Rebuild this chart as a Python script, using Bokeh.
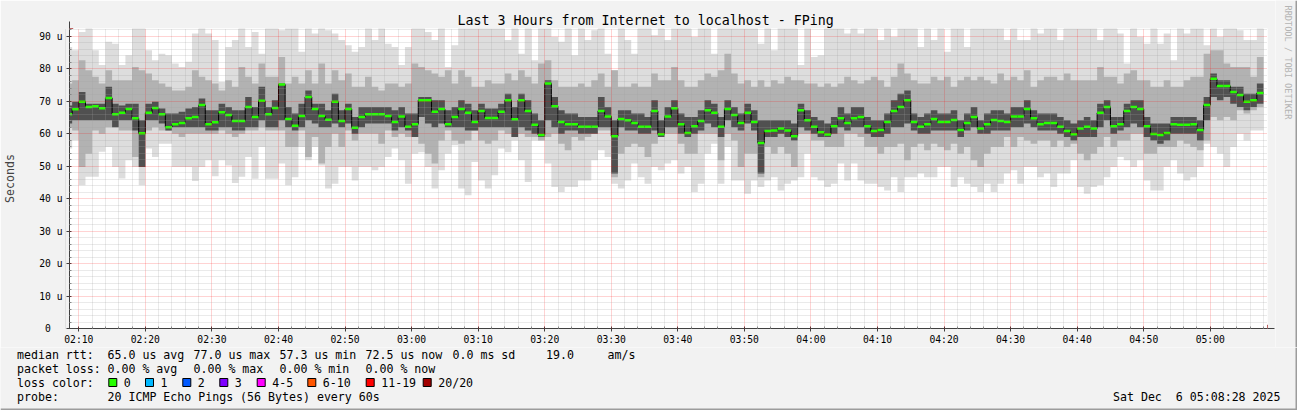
import numpy as np
from bokeh.plotting import figure
from bokeh.layouts import column, row
from bokeh.models import Range1d, FixedTicker, Arrow, NormalHead
from bokeh.core.properties import value
from bokeh.embed import file_html
from bokeh.resources import INLINE

# ---------------- data (values in microseconds, one step per minute, first step starts 02:08) -------------
start_minute = 8  # minutes after 02:00 of the first step

median = [66.0, 67.5, 69.8, 68.2, 68.4, 67.8, 71.0, 66.0, 66.4, 67.6, 64.7, 60.1, 66.4, 67.9, 66.0, 62.0, 62.9, 63.3, 64.7, 65.1, 68.8, 62.9, 63.5, 66.6, 65.7, 63.9, 63.9, 68.2, 65.1, 70.1,
          66.0,
          67.9, 75.1, 64.5, 62.4, 65.4, 71.3, 67.6, 65.4, 64.3, 69.8, 63.9, 67.6, 61.8, 65.1, 66.0, 66.0, 66.0, 65.4, 63.6, 65.3, 62.1, 62.9, 70.3, 70.3, 66.7, 67.6, 62.9, 65.1, 67.6, 66.4,
          63.6, 67.0, 64.8, 64.8, 66.7, 70.3, 64.4, 70.3, 67.0, 62.7, 59.6, 75.4, 68.4, 63.6, 62.9, 62.9, 62.1, 62.1, 62.1, 67.0, 65.3, 59.2, 64.5, 64.1, 63.3, 62.1, 62.1, 67.0, 59.8, 65.3, 67.8,
          62.9, 60.2, 62.3, 63.9, 67.2, 66.4, 62.1, 67.6, 65.7, 63.3, 66.4, 63.6, 57.1, 60.8, 61.0, 61.6, 61.0, 59.2, 67.2, 64.1, 62.1, 60.4, 59.7, 62.3, 64.7, 63.3, 64.7, 65.1, 62.3, 60.8, 61.1,
          63.6, 67.0, 68.2, 70.3, 63.6, 62.1, 62.9, 64.5, 63.6, 63.6, 64.2, 61.1, 63.3, 65.1, 61.6, 62.9, 64.2, 63.9, 63.6, 65.3, 65.3, 67.6, 64.7, 62.9, 63.3, 63.3, 62.1, 60.8, 59.8, 61.6,
          62.1, 61.6, 66.4, 68.2, 62.3, 62.9, 67.0, 68.2, 67.6, 62.3, 59.9, 59.6, 60.2, 62.9, 62.7, 62.7, 62.9, 61.1, 68.8, 76.9, 74.7, 74.7, 72.8, 71.9, 69.8, 70.3, 72.5]

smoke_min = [55.4, 58.0, 44.1, 46.7, 46.7, 54.4, 55.9, 49.7, 46.2, 51.8, 49.7, 44.1, 55.4, 52.8, 56.9, 56.9, 49.7, 49.7, 49.7, 45.4, 49.7, 51.8, 46.9, 51.8, 50.2, 44.8, 46.7, 52.8, 46.1, 55.9,
             46.1,
             46.1, 50.8, 44.1, 46.6, 55.9, 51.8, 55.9, 50.2, 43.1, 44.6, 49.7, 49.7, 45.6, 49.7, 49.7, 48.7, 49.7, 52.8, 55.4, 51.8, 44.6, 53.8, 54.3, 49.7, 43.1, 48.7, 53.8, 56.4, 43.1, 41.0,
             51.3, 45.6, 43.1, 47.2, 55.4, 54.3, 57.9, 51.8, 45.1, 57.9, 57.9, 50.8, 43.6, 42.0, 43.6, 43.6, 45.6, 45.6, 51.8, 54.9, 52.8, 44.6, 43.1, 45.6, 50.8, 46.6, 44.6, 49.7, 48.7, 50.8, 51.8,
             47.7, 49.7, 42.0, 44.6, 53.8, 56.9, 44.6, 55.9, 45.6, 45.6, 41.5, 45.6, 43.6, 45.6, 46.6, 42.5, 44.6, 45.6, 46.6, 53.8, 46.6, 45.6, 43.6, 44.6, 50.8, 45.6, 50.8, 45.6, 44.6, 44.6, 43.6,
             42.5, 46.6, 42.0, 46.6, 46.6, 47.7, 46.6, 46.6, 49.7, 49.7, 43.6, 46.6, 44.6, 43.6, 42.0, 44.6, 42.0, 44.6, 47.7, 48.7, 44.6, 49.7, 49.7, 46.6, 47.7, 43.6, 47.7, 47.7, 51.8, 43.6,
             41.5, 43.6, 44.1, 46.6, 49.7, 52.8, 51.8, 49.7, 51.8, 45.6, 42.5, 42.5, 49.7, 51.8, 47.7, 45.6, 46.6, 49.7, 56.9, 55.9, 53.8, 49.7, 55.9, 60.0, 57.9, 61.0, 61.0]

smoke_max = [86.7, 85.7, 91.3, 95, 85.7, 81.1, 88.3, 87.7, 81.1, 84.1, 95, 95, 85.7, 82.6, 84.6, 84.1, 81.6, 80.5, 82.1, 90.8, 95, 90.8, 88.8, 75.9, 86.7, 88.8, 95, 86.7, 91.3, 84.6,
             95,
             95, 91.8, 95, 95, 85.2, 95, 90.8, 95, 91.8, 90.8, 88.8, 87.2, 85.2, 86.7, 95, 88.8, 95, 87.7, 86.7, 81.1, 86.7, 95, 95, 91.3, 88.8, 95, 80.5, 87.2, 95, 95,
             95, 95, 95, 95, 95, 88.8, 95, 84.6, 95, 82.6, 95, 95, 89.8, 88.3, 95, 84.1, 95, 88.8, 91.8, 95, 84.6, 79.5, 95, 88.8, 84.6, 95, 95, 90.3, 95, 88.8, 95,
             95, 95, 89.8, 95, 95, 84.6, 95, 95, 95, 95, 95, 95, 87.7, 95, 85.7, 95, 95, 95, 81.1, 95, 83.6, 84.1, 95, 95, 95, 90.8, 95, 90.8, 95, 95, 88.8,
             95, 89.8, 95, 95, 95, 86.7, 95, 88.8, 95, 85.2, 95, 95, 86.7, 95, 95, 95, 95, 95, 88.8, 95, 88.8, 88.8, 95, 90.8, 95, 95, 88.8, 95, 95, 95,
             95, 95, 88.8, 95, 95, 90.8, 81.6, 95, 89.8, 87.7, 95, 87.7, 90.8, 82.6, 95, 90.8, 95, 95, 87.2, 95, 89.8, 95, 95, 91.8, 88.8, 88.8, 95]

smoke_mid_lo = [62.0, 61.0, 49.7, 53.8, 61.0, 60.0, 62.0, 62.0, 61.0, 61.0, 52.8, 49.7, 61.0, 62.0, 61.0, 61.0, 60.0, 59.0, 60.0, 60.0, 60.0, 60.0, 60.0, 61.0, 60.0, 59.0, 60.0, 61.0, 61.0, 62.0,
                61.0,
                61.0, 61.0, 55.9, 55.9, 61.0, 52.8, 59.0, 50.8, 55.9, 60.0, 55.9, 61.0, 57.9, 60.0, 60.0, 60.0, 56.9, 61.0, 59.0, 60.0, 59.0, 59.0, 56.9, 53.8, 50.8, 57.9, 61.0, 57.9, 56.9, 57.9,
                61.0, 57.9, 56.9, 57.9, 61.0, 60.0, 59.0, 60.0, 59.0, 59.0, 57.9, 59.0, 60.0, 56.9, 54.9, 59.0, 57.9, 59.0, 60.0, 61.0, 61.0, 46.6, 53.8, 55.9, 56.9, 55.9, 52.8, 56.9, 59.0, 60.0, 60.0,
                56.9, 53.8, 53.8, 60.0, 60.0, 60.0, 51.8, 60.0, 57.9, 49.7, 53.8, 53.8, 46.6, 55.9, 53.8, 55.9, 53.8, 49.7, 60.0, 60.0, 57.9, 57.9, 55.9, 55.9, 55.9, 60.0, 60.0, 59.0, 55.9, 55.9, 53.8,
                55.9, 55.9, 56.9, 51.8, 55.9, 56.9, 54.9, 56.9, 55.9, 54.9, 56.9, 53.8, 55.9, 51.8, 49.7, 53.8, 55.9, 55.9, 59.0, 55.9, 59.0, 57.9, 56.9, 57.9, 57.9, 55.9, 57.9, 55.9, 56.9, 53.8,
                51.8, 53.8, 55.9, 59.0, 55.9, 57.9, 57.9, 60.0, 60.0, 53.8, 53.8, 55.9, 55.9, 55.9, 57.9, 56.9, 55.9, 54.9, 57.9, 65.1, 64.1, 65.1, 64.1, 67.2, 66.2, 67.2, 68.2]

smoke_mid_hi = [75.4, 76.4, 82.6, 79.5, 77.5, 75.4, 79.5, 76.4, 76.4, 76.4, 80.5, 79.5, 78.5, 76.4, 75.4, 74.4, 73.3, 73.3, 74.4, 79.5, 77.5, 76.4, 75.4, 73.3, 76.4, 74.4, 80.5, 77.5, 75.4, 81.6,
                77.5,
                77.5, 83.6, 75.4, 77.5, 75.4, 79.5, 75.4, 81.6, 75.4, 79.5, 76.4, 78.5, 74.4, 74.4, 77.5, 74.4, 73.3, 75.4, 75.4, 74.4, 75.4, 81.6, 80.5, 79.5, 78.5, 77.5, 79.5, 75.4, 79.5, 77.5,
                74.4, 74.4, 76.4, 75.4, 75.4, 78.5, 76.4, 79.5, 77.5, 75.4, 81.6, 82.6, 76.4, 74.4, 74.4, 74.4, 75.4, 74.4, 76.4, 78.5, 74.4, 79.5, 74.4, 74.4, 75.4, 74.4, 74.4, 78.5, 76.4, 76.4, 80.5,
                76.4, 74.4, 74.4, 76.4, 78.5, 77.5, 79.5, 84.6, 78.5, 75.4, 76.4, 74.4, 76.4, 74.4, 76.4, 75.4, 77.5, 76.4, 76.4, 75.4, 75.4, 74.4, 75.4, 74.4, 75.4, 77.5, 76.4, 75.4, 76.4, 77.5, 76.4,
                74.4, 77.5, 81.6, 78.5, 76.4, 75.4, 75.4, 77.5, 76.4, 77.5, 74.4, 76.4, 77.5, 76.4, 77.5, 76.4, 75.4, 78.5, 76.4, 77.5, 76.4, 79.5, 74.4, 76.4, 77.5, 77.5, 76.4, 78.5, 76.4, 76.4,
                76.4, 76.4, 80.5, 77.5, 77.5, 75.4, 78.5, 79.5, 76.4, 76.4, 74.4, 74.4, 76.4, 74.4, 74.4, 76.4, 77.5, 77.5, 84.6, 85.7, 85.7, 81.6, 80.5, 80.5, 80.5, 77.5, 83.6]

smoke_in_lo = [63.1, 64.1, 64.1, 64.1, 64.1, 64.1, 64.1, 62.0, 64.1, 64.1, 61.0, 49.7, 64.1, 64.1, 63.1, 61.0, 62.0, 62.0, 62.0, 62.0, 62.0, 61.0, 61.0, 62.0, 62.0, 61.0, 61.0, 62.0, 62.0, 64.1,
               62.0,
               62.0, 64.1, 62.0, 61.0, 62.0, 64.1, 63.1, 62.0, 62.0, 63.1, 62.0, 63.1, 60.0, 62.0, 63.1, 63.1, 63.1, 63.1, 61.0, 62.0, 61.0, 59.0, 65.1, 63.1, 62.0, 63.1, 62.0, 62.0, 62.0, 61.0,
               61.0, 62.0, 62.0, 62.0, 62.0, 62.0, 59.0, 62.0, 61.0, 60.0, 59.0, 64.1, 62.0, 60.0, 61.0, 61.0, 60.0, 60.0, 60.0, 62.0, 62.0, 47.7, 62.0, 61.0, 61.0, 60.0, 60.0, 61.0, 59.0, 62.0, 62.0,
               60.0, 59.0, 60.0, 61.0, 63.1, 62.0, 59.0, 64.1, 62.0, 61.0, 63.1, 61.0, 47.7, 59.0, 59.0, 60.0, 59.0, 57.9, 62.0, 61.0, 60.0, 59.0, 59.0, 60.0, 62.0, 61.0, 62.0, 62.0, 60.0, 59.0, 59.0,
               60.0, 62.0, 62.0, 63.1, 61.0, 60.0, 60.0, 61.0, 61.0, 61.0, 61.0, 59.0, 61.0, 62.0, 60.0, 60.0, 61.0, 61.0, 61.0, 62.0, 62.0, 63.1, 62.0, 61.0, 61.0, 61.0, 60.0, 59.0, 57.9, 59.0,
               59.0, 59.0, 62.0, 64.1, 60.0, 61.0, 62.0, 63.1, 62.0, 59.0, 57.9, 56.9, 57.9, 60.0, 60.0, 60.0, 60.0, 57.9, 64.1, 71.3, 70.3, 71.3, 69.2, 68.2, 67.2, 68.2, 69.2]

smoke_in_hi = [68.7, 69.8, 72.8, 69.2, 69.2, 69.2, 74.4, 69.2, 68.7, 69.2, 69.2, 64.1, 69.2, 69.8, 67.7, 66.2, 66.2, 66.7, 67.7, 68.2, 70.8, 67.2, 67.2, 69.2, 68.2, 67.2, 67.2, 71.3, 68.2, 74.4,
               68.2,
               70.3, 75.4, 68.2, 66.2, 69.2, 73.3, 69.2, 69.2, 67.2, 72.3, 67.2, 69.2, 65.1, 68.2, 68.2, 68.2, 68.2, 68.2, 67.2, 68.2, 66.2, 66.2, 71.3, 71.3, 70.3, 70.3, 67.2, 68.2, 70.3, 69.2,
               67.2, 69.2, 67.7, 67.7, 69.2, 72.3, 68.2, 72.3, 70.3, 66.2, 64.1, 76.4, 71.3, 67.2, 66.2, 66.2, 65.1, 65.1, 65.1, 71.3, 68.2, 64.1, 67.2, 67.2, 66.2, 66.2, 65.1, 70.3, 64.1, 68.2, 70.3,
               66.2, 65.1, 65.1, 67.2, 70.3, 69.2, 65.1, 70.3, 68.2, 66.2, 69.2, 67.2, 64.1, 64.1, 64.1, 64.1, 64.1, 63.1, 69.2, 67.2, 65.1, 64.1, 63.1, 65.1, 68.2, 66.2, 68.2, 68.2, 65.1, 64.1, 64.1,
               66.2, 70.3, 72.3, 73.3, 66.2, 65.1, 66.2, 67.2, 66.2, 66.2, 67.2, 64.1, 66.2, 68.2, 64.1, 66.2, 67.2, 67.2, 66.2, 68.2, 68.2, 70.3, 67.2, 66.2, 66.2, 66.2, 65.1, 64.1, 63.1, 64.1,
               65.1, 64.1, 69.2, 70.3, 65.1, 65.1, 69.2, 70.3, 70.3, 65.1, 63.1, 63.1, 63.1, 65.1, 65.1, 65.1, 65.1, 64.1, 71.3, 78.5, 76.4, 76.4, 74.4, 74.4, 72.3, 72.3, 75.4]

x_tick_labels = ["02:10", "02:20", "02:30", "02:40", "02:50", "03:00", "03:10", "03:20", "03:30",
                 "03:40", "03:50", "04:00", "04:10", "04:20", "04:30", "04:40", "04:50", "05:00"]
y_tick_values = [0, 10, 20, 30, 40, 50, 60, 70, 80, 90]
y_tick_labels = ["0\u00a0\u00a0", "10 u", "20 u", "30 u", "40 u", "50 u", "60 u", "70 u", "80 u", "90 u"]

title_text = "Last 3 Hours from Internet to localhost - FPing"
y_label = "Seconds"
rtt_items = ["median rtt:", "65.0 us avg", "77.0 us max", "57.3 us min", "72.5 us now", "0.0 ms sd", "19.0", "am/s"]
loss_items = ["packet loss:", "0.00 % avg", "0.00 % max", "0.00 % min", "0.00 % now"]
loss_color_names = ["0", "1", "2", "3", "4-5", "6-10", "11-19", "20/20"]
loss_color_values = ["#26ff00", "#00b8ff", "#0059ff", "#7e00ff", "#ff00ff", "#ff5500", "#ff0000", "#a10000"]
probe_items = ["probe:", "20 ICMP Echo Pings (56 Bytes) every 60s"]
date_text = "Sat Dec  6 05:08:28 2025"
watermark = "RRDTOOL / TOBI OETIKER"

for arr in (smoke_min, smoke_max, smoke_mid_lo, smoke_mid_hi, smoke_in_lo, smoke_in_hi):
    assert len(arr) == len(median), len(arr)

# ---------------- layout ----------------
FONT = "DejaVu Sans Mono"
BG = "#f2f2f2"
EDGE = "#9c9c9c"
W = 1297
MAIN_W = 1275
WM_W = W - MAIN_W
MAIN_H = 347
LEG_H = 410 - MAIN_H
FL, FT, FW, FH = 67, 28, 1200, 300          # frame position in pixels
X0, X1 = 8.6, 188.6                        # minutes after 02:00
Y0, Y1 = 0.0, 92.37
px_per_u = FH / (Y1 - Y0)
px_per_min = FW / (X1 - X0)

p = figure(width=MAIN_W, height=MAIN_H, x_range=Range1d(X0, X1), y_range=Range1d(Y0, Y1),
           output_backend="svg", toolbar_location=None,
           min_border_left=FL, min_border_right=MAIN_W - FL - FW, min_border_top=FT,
           min_border_bottom=MAIN_H - FT - FH,
           background_fill_color="white", border_fill_color=BG, outline_line_color=None)

# title
p.title.text = title_text
p.title.text_font = FONT
p.title.text_font_size = "13.3px"
p.title.text_font_style = "normal"
p.title.text_color = "#000000"
p.title.align = "left"
p.title.offset = 388
p.title.standoff = 2

# stepped smoke bands
n = len(median)
t0 = np.arange(n) + start_minute
xs = np.column_stack([t0, t0 + 1]).ravel()
def stepy(a):
    return np.repeat(np.asarray(a, dtype=float), 2)

p.varea(x=xs, y1=stepy(smoke_min), y2=stepy(smoke_max), fill_color="#dddddd")
p.varea(x=xs, y1=stepy(smoke_mid_lo), y2=stepy(smoke_mid_hi), fill_color="#b2b2b2")
p.varea(x=xs, y1=stepy(smoke_in_lo), y2=stepy(smoke_in_hi), fill_color="#505050")

# median: black step line with green segments
p.line(x=xs, y=stepy(median), line_color="#000000", line_width=1)
p.segment(x0=t0, y0=median, x1=t0 + 1, y1=median, line_color="#26ff00", line_width=2.5)

# axes / grid
x_ticks = [int(s[:2]) * 60 + int(s[3:]) - 120 for s in x_tick_labels]
x_minor = [m for m in range(int(X0), int(X1) + 1) if m % 2 == 0 and m % 10 != 0]
y_minor = [v for v in range(0, int(Y1) + 1, 2) if v % 10 != 0]

p.xaxis.ticker = FixedTicker(ticks=x_ticks, minor_ticks=x_minor)
p.xaxis.major_label_overrides = {t: s for t, s in zip(x_ticks, x_tick_labels)}
p.yaxis.ticker = FixedTicker(ticks=y_tick_values, minor_ticks=y_minor)
p.yaxis.major_label_overrides = {t: s for t, s in zip(y_tick_values, y_tick_labels)}

for ax in (p.xaxis, p.yaxis):
    ax.axis_line_color = "#404040"
    ax.major_tick_line_color = "#404040"
    ax.minor_tick_line_color = "#808080"
    ax.major_tick_out = 3
    ax.major_tick_in = 2
    ax.minor_tick_out = 0
    ax.minor_tick_in = 2
    ax.major_label_text_font = FONT
    ax.major_label_text_font_size = "9.7px"
    ax.major_label_text_color = "#000000"
p.yaxis.major_label_standoff = 4
p.xaxis.major_label_standoff = 2
p.yaxis.axis_label = y_label
p.yaxis.axis_label_text_font = FONT
p.yaxis.axis_label_text_font_size = "11.6px"
p.yaxis.axis_label_text_font_style = "normal"
p.yaxis.axis_label_standoff = 19

for g in (p.xgrid, p.ygrid):
    g.level = "overlay"
    g.grid_line_color = "#ff0000"
    g.grid_line_alpha = 0.35
    g.grid_line_dash = "1 1"
    g.minor_grid_line_color = "#a0a0a0"
    g.minor_grid_line_alpha = 0.45
    g.minor_grid_line_dash = "1 1"

# axis arrows
head_col = "#9b1010"
p.add_layout(Arrow(x_start=X0, y_start=Y1, x_end=X0, y_end=Y1 + 7 / px_per_u,
                   line_color="#404040", line_width=1,
                   end=NormalHead(size=7, fill_color=head_col, line_color=head_col)))
p.add_layout(Arrow(x_start=X1, y_start=Y0, x_end=X1 + 7 / px_per_min, y_end=Y0,
                   line_color="#404040", line_width=1,
                   end=NormalHead(size=7, fill_color=head_col, line_color=head_col)))

# ---------------- watermark strip on the right (pixel coordinates, y downward) ----------------
wmf = figure(width=WM_W, height=MAIN_H, x_range=Range1d(0, WM_W), y_range=Range1d(MAIN_H, 0),
             output_backend="svg", toolbar_location=None, min_border=0,
             x_axis_location=None, y_axis_location=None,
             background_fill_color=BG, border_fill_color=BG, outline_line_color=None)
wmf.grid.visible = False
wmf.text(x=[1287 - MAIN_W], y=[5], text=[watermark], angle=-np.pi / 2,
         text_align="left", text_baseline="middle", text_font=value(FONT),
         text_font_size=value("8.6px"), text_color="#b4b4b4")
wmf.quad(left=[WM_W - 2], right=[WM_W], top=[0], bottom=[MAIN_H], fill_color=EDGE, line_color=None)

# ---------------- legend strip (pixel coordinates, y downward) ----------------
q = figure(width=W, height=LEG_H, x_range=Range1d(0, W), y_range=Range1d(LEG_H, 0),
           output_backend="svg", toolbar_location=None, min_border=0,
           x_axis_location=None, y_axis_location=None,
           background_fill_color=BG, border_fill_color=BG, outline_line_color=None)
q.grid.visible = False

def strip_y(page_y):
    return page_y - MAIN_H

tx, ty, tt, ta = [], [], [], []
rtt_x = [16.5, 107, 193, 279, 365, 452, 545.5, 607]
for s, x in zip(rtt_items, rtt_x):
    tx.append(x); ty.append(strip_y(354)); tt.append(s); ta.append("left")
loss_x = [16.5, 107, 193, 279, 365]
for s, x in zip(loss_items, loss_x):
    tx.append(x); ty.append(strip_y(368)); tt.append(s); ta.append("left")
tx.append(16.5); ty.append(strip_y(382)); tt.append("loss color:"); ta.append("left")
sq_x = [108.3, 145, 182.3, 219.3, 256.7, 307.3, 365.7, 422.7]
for name, x in zip(loss_color_names, sq_x):
    tx.append(x + 15); ty.append(strip_y(382)); tt.append(name); ta.append("left")
for s, x in zip(probe_items, [16.5, 107]):
    tx.append(x); ty.append(strip_y(396)); tt.append(s); ta.append("left")
tx.append(1280); ty.append(strip_y(396)); tt.append(date_text.replace(" ", "\u00a0")); ta.append("right")

q.text(x=tx, y=ty, text=tt, text_align=ta, text_baseline="middle",
       text_font=value(FONT), text_font_size=value("11.6px"), text_color="#000000")
q.rect(x=[x + 4 for x in sq_x], y=[strip_y(382)] * len(sq_x), width=8, height=8,
       fill_color=loss_color_values, line_color="#000000", line_width=1)
# frame shading at the bottom and right edge
q.quad(left=[0, W - 2], right=[W, W], top=[LEG_H - 2, 0], bottom=[LEG_H, LEG_H],
       fill_color=EDGE, line_color=None)

layout = column(row(p, column(wmf, spacing=0), spacing=0), row(q, spacing=0), spacing=0)
open("out.html", "w").write(file_html(layout, INLINE))
